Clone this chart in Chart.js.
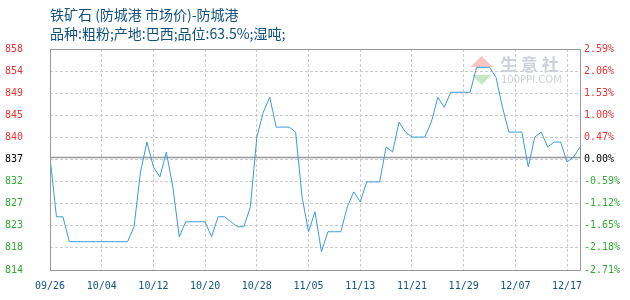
<!DOCTYPE html>
<html>
<head>
<meta charset="utf-8">
<script src="https://cdn.jsdelivr.net/npm/chart.js@4"></script>
<style>
  html, body { margin: 0; padding: 0; background: #fff; }
  #wrap { width: 630px; height: 300px; }
</style>
</head>
<body>
<div id="wrap"><canvas id="priceChart" width="630" height="300"></canvas></div>
<script>
// price per day, 09/26 .. 12/17
const prices = [
  837, 825, 825, 820, 820, 820, 820, 820, 820, 820, 820, 820, 820,
  823, 834, 840, 835, 833, 838, 831, 821, 824, 824, 824, 824, 821,
  825, 825, 824, 823, 823, 827, 841, 846, 849, 843, 843, 843, 842,
  829, 822, 826, 818, 822, 822, 822, 827, 830, 828, 832, 832, 832,
  839, 838, 844, 842, 841, 841, 841, 844, 849, 847, 850, 850, 850,
  850, 855, 855, 855, 853, 847, 842, 842, 842, 835, 841, 842, 839,
  840, 840, 836, 837, 839
];
const basePrice = 837;

const xTickIndex = [0, 8, 16, 24, 32, 40, 48, 56, 64, 72, 80];
const xTickLabels = ['09/26', '10/04', '10/12', '10/20', '10/28', '11/05', '11/13', '11/21', '11/29', '12/07', '12/17'];

const yMax = 858.68, yMin = 814.32;
const leftLabels = ['858', '854', '849', '845', '840', '837', '832', '827', '823', '818', '814'];
const rightLabels = ['2.59%', '2.06%', '1.53%', '1.00%', '0.47%', '0.00%', '-0.59%', '-1.12%', '-1.65%', '-2.18%', '-2.71%'];

const titleText = '铁矿石 (防城港 市场价)-防城港';
const subText = '品种:粗粉;产地:巴西;品位:63.5%;湿吨;';

const red = '#ee3333', green = '#33aa33', black = '#000000';
const tickColor = (i) => i < 5 ? red : (i === 5 ? black : green);
const yTickValues = leftLabels.map((_, i) => yMax - i * (yMax - yMin) / 10);
const monoFont = { family: 'DejaVu Sans Mono', size: 10 };

// frame, base line and the watermark
const framePlugin = {
  id: 'frame',
  beforeDatasetsDraw(chart) {
    const { ctx, chartArea: a, scales } = chart;
    ctx.save();
    // watermark
    ctx.fillStyle = 'rgba(240,150,150,0.55)';
    ctx.beginPath();
    ctx.moveTo(481.5, 56); ctx.lineTo(493, 67); ctx.lineTo(470.5, 67); ctx.closePath(); ctx.fill();
    ctx.fillStyle = 'rgba(150,215,150,0.55)';
    ctx.beginPath();
    ctx.moveTo(472, 75); ctx.lineTo(491.5, 75); ctx.lineTo(481.5, 85); ctx.closePath(); ctx.fill();
    ctx.fillStyle = '#cdd1db';
    ctx.font = 'bold 17px "Noto Sans CJK SC"';
    ctx.textBaseline = 'middle';
    ctx.fillText('生 意 社', 500, 65);
    ctx.font = '10px "DejaVu Sans"';
    ctx.fillText('100PPI.COM', 501, 80);
    // base line
    const y = Math.round(scales.y.getPixelForValue(basePrice)) + 0.5;
    ctx.strokeStyle = '#999';
    ctx.lineWidth = 1.5;
    ctx.beginPath();
    ctx.moveTo(a.left, y); ctx.lineTo(a.right, y);
    ctx.stroke();
    ctx.restore();
  },
  afterDraw(chart) {
    const { ctx, chartArea: a } = chart;
    ctx.save();
    ctx.strokeStyle = '#999';
    ctx.lineWidth = 1;
    ctx.strokeRect(Math.round(a.left) + 0.5, Math.round(a.top) + 0.5,
      Math.round(a.right - a.left), Math.round(a.bottom - a.top));
    ctx.restore();
  }
};

const ctx = document.getElementById('priceChart').getContext('2d');
const priceChart = new Chart(ctx, {
  type: 'line',
  data: {
    datasets: [{
      data: prices.map((v, i) => ({ x: i, y: v })),
      borderColor: '#3a9bdc',
      borderWidth: 1,
      pointRadius: 0,
      fill: false,
      tension: 0
    }]
  },
  options: {
    responsive: false,
    animation: false,
    layout: { padding: { left: 5, right: 0, top: 0, bottom: 0 } },
    plugins: {
      legend: { display: false },
      tooltip: { enabled: false },
      title: {
        display: true,
        text: titleText,
        align: 'start',
        fullSize: false,
        color: '#0f5282',
        font: { family: 'Noto Sans CJK SC', size: 14, weight: 'normal', lineHeight: 1.1 },
        padding: { top: 7.3, bottom: 3 }
      },
      subtitle: {
        display: true,
        text: subText,
        align: 'start',
        fullSize: false,
        color: '#0f5282',
        font: { family: 'Noto Sans CJK SC', size: 14, weight: 'normal', lineHeight: 1.1 },
        padding: { top: 0, bottom: 7.9 }
      }
    },
    scales: {
      x: {
        type: 'linear',
        min: 0,
        max: prices.length - 1,
        afterBuildTicks: (s) => { s.ticks = xTickIndex.map(v => ({ value: v })); },
        afterFit: (s) => { s.height = 30; },
        ticks: {
          autoSkip: false,
          maxRotation: 0,
          padding: 10,
          color: '#125487',
          font: monoFont,
          callback: (v, i) => xTickLabels[i]
        },
        grid: { color: '#cccccc', drawTicks: false },
        border: { display: false, dash: [3, 2] }
      },
      y: {
        position: 'left',
        min: yMin,
        max: yMax,
        afterBuildTicks: (s) => { s.ticks = yTickValues.map(v => ({ value: v })); },
        afterFit: (s) => { s.width = 45; },
        ticks: {
          crossAlign: 'far',
          padding: 4,
          font: monoFont,
          color: (c) => tickColor(c.index),
          callback: (v, i) => leftLabels[i]
        },
        grid: { color: '#cccccc', drawTicks: false },
        border: { display: false, dash: [3, 2] }
      },
      y2: {
        position: 'right',
        min: yMin,
        max: yMax,
        afterBuildTicks: (s) => { s.ticks = yTickValues.map(v => ({ value: v })); },
        afterFit: (s) => { s.width = 50; },
        ticks: {
          padding: 4,
          font: monoFont,
          color: (c) => tickColor(c.index),
          callback: (v, i) => rightLabels[i]
        },
        grid: { display: false, drawTicks: false },
        border: { display: false }
      }
    }
  },
  plugins: [framePlugin]
});
</script>
</body>
</html>
